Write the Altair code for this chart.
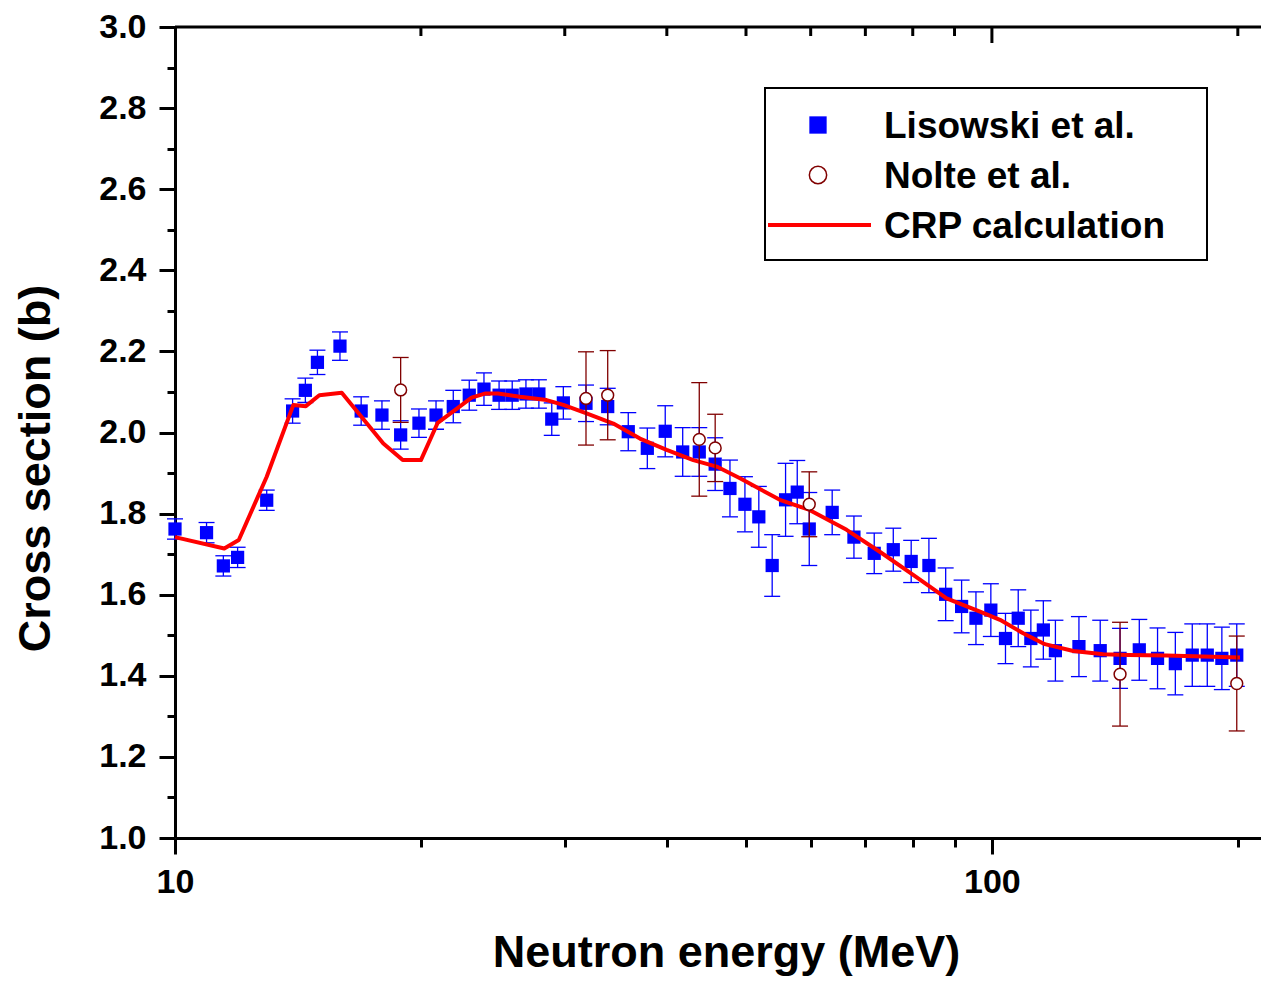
import altair as alt
import pandas as pd

# ---------------- data ----------------
lis_E = [10.0, 10.93, 11.46, 11.93, 12.95, 13.93, 14.44, 14.94, 15.92, 16.9,
         17.92, 18.89, 19.89, 20.87, 21.91, 22.92, 23.89, 24.93, 25.87, 26.89,
         27.89, 28.92, 29.88, 31.85, 33.86, 35.88, 37.86, 39.82, 41.83, 43.83,
         45.84, 47.79, 49.85, 51.84, 53.83, 55.9, 57.77, 59.76, 63.75, 67.78,
         71.77, 75.73, 79.65, 83.73, 87.78, 91.81, 95.6, 99.7, 103.9, 107.7,
         111.6, 115.6, 119.6, 127.8, 135.7, 143.5, 151.5, 159.5, 167.7, 175.9,
         183.5, 191.2, 199.4]
lis_S = [1.762, 1.753, 1.671, 1.692, 1.833, 2.053, 2.104, 2.173, 2.213, 2.053,
         2.043, 1.994, 2.023, 2.043, 2.064, 2.092, 2.107, 2.092, 2.092, 2.095,
         2.095, 2.033, 2.073, 2.072, 2.064, 2.002, 1.961, 2.003, 1.952, 1.952,
         1.922, 1.862, 1.823, 1.792, 1.672, 1.834, 1.853, 1.762, 1.803, 1.742,
         1.702, 1.711, 1.682, 1.672, 1.601, 1.571, 1.542, 1.562, 1.492, 1.542,
         1.492, 1.513, 1.462, 1.472, 1.462, 1.443, 1.464, 1.443, 1.430, 1.451,
         1.451, 1.443, 1.451]
lis_err = [0.025, 0.025, 0.025, 0.025, 0.025, 0.03, 0.03, 0.03, 0.035, 0.035,
           0.035, 0.035, 0.035, 0.035, 0.04, 0.037, 0.04, 0.035, 0.035, 0.035,
           0.035, 0.04, 0.04, 0.045, 0.045, 0.047, 0.05, 0.063, 0.06, 0.06,
           0.065, 0.07, 0.068, 0.075, 0.076, 0.09, 0.078, 0.09, 0.055, 0.052,
           0.05, 0.053, 0.052, 0.067, 0.065, 0.065, 0.065, 0.065, 0.062, 0.07,
           0.07, 0.072, 0.075, 0.074, 0.075, 0.074, 0.075, 0.075, 0.077, 0.077,
           0.077, 0.077, 0.077]

nol_E = [18.89, 31.85, 33.86, 43.83, 45.84, 59.76, 143.5, 199.4]
nol_S = [2.105, 2.084, 2.092, 1.983, 1.962, 1.823, 1.404, 1.381]
nol_err = [0.08, 0.115, 0.11, 0.14, 0.083, 0.08, 0.128, 0.117]

crp_E = [10.0, 11.49, 11.97, 12.95, 13.96, 14.46, 15.02, 16.0, 17.99, 19.0,
         20.0, 20.97, 22.01, 23.07, 23.95, 24.85, 26.44, 28.5, 29.88, 31.9,
         34.4, 37.08, 39.98, 43.1, 46.03, 49.16, 55.0, 59.8, 66.4, 72.9,
         80.1, 88.0, 96.7, 102.3, 109.2, 116.1, 125.8, 136.9, 147.0, 163.6,
         201.2]
crp_S = [1.742, 1.714, 1.735, 1.891, 2.068, 2.065, 2.092, 2.098, 1.973, 1.932,
         1.932, 2.024, 2.055, 2.086, 2.096, 2.096, 2.088, 2.08, 2.068, 2.047,
         2.022, 1.985, 1.957, 1.932, 1.916, 1.887, 1.834, 1.809, 1.76, 1.706,
         1.649, 1.591, 1.558, 1.538, 1.505, 1.478, 1.461, 1.453, 1.451, 1.45,
         1.445]

x_major_ticks = [10, 100]
x_minor_ticks = [20, 30, 40, 50, 60, 70, 80, 90, 200]
y_ticks = [1.0, 1.1, 1.2, 1.3, 1.4, 1.5, 1.6, 1.7, 1.8, 1.9, 2.0,
           2.1, 2.2, 2.3, 2.4, 2.5, 2.6, 2.7, 2.8, 2.9, 3.0]

legend_labels = ["Lisowski et al.", "Nolte et al.", "CRP calculation"]

# ---------------- tables ----------------
lis = pd.DataFrame({"E": lis_E, "S": lis_S,
                    "lo": [s - e for s, e in zip(lis_S, lis_err)],
                    "hi": [s + e for s, e in zip(lis_S, lis_err)]})
nol = pd.DataFrame({"E": nol_E, "S": nol_S,
                    "lo": [s - e for s, e in zip(nol_S, nol_err)],
                    "hi": [s + e for s, e in zip(nol_S, nol_err)]})
crp = pd.DataFrame({"E": crp_E, "S": crp_S})
top_minor = pd.DataFrame({"E": x_minor_ticks})
top_major = pd.DataFrame({"E": [100]})

W, H = 1086, 811
FONT = "Liberation Sans"
BLUE = "#0000FF"
DRED = "#800000"
RED = "#FF0000"

xs = alt.Scale(type="log", domain=[10, 213.5], nice=False)
ys = alt.Scale(domain=[1.0, 3.0], nice=False, zero=False)

xaxis = alt.Axis(
    values=x_major_ticks + x_minor_ticks,
    labelExpr="(datum.value == 10 || datum.value == 100) ? format(datum.value, 'd') : ''",
    tickSize={"condition": {"test": "datum.value == 10 || datum.value == 100", "value": 16}, "value": 9},
    labelPadding=11, labelFlush=False, labelOverlap=False,
    title="Neutron energy (MeV)", titleX=551, titleY=128,
    titleBaseline="alphabetic", titleAlign="center",
)
yaxis = alt.Axis(
    values=y_ticks,
    labelExpr="round(datum.value * 10) % 2 == 0 ? format(datum.value, '.1f') : ''",
    tickSize={"condition": {"test": "round(datum.value * 10) % 2 == 0", "value": 16}, "value": 8},
    labelPadding=13, labelFlush=False, labelOverlap=False,
    title="Cross section (b)", titleX=-126, titleY=441,
    titleBaseline="alphabetic", titleAlign="center", titleAngle=270,
)


def X(field="E"):
    return alt.X(f"{field}:Q", scale=xs, axis=xaxis)


def Y(field):
    return alt.Y(f"{field}:Q", scale=ys, axis=yaxis)


# Lisowski
lis_bar = alt.Chart(lis).mark_rule(color=BLUE, strokeWidth=1.3).encode(
    x=X(), y=Y("lo"), y2="hi:Q")
lis_cap_lo = alt.Chart(lis).mark_tick(orient="horizontal", color=BLUE, size=16,
                                      thickness=1.3, opacity=1).encode(x=X(), y=Y("lo"))
lis_cap_hi = alt.Chart(lis).mark_tick(orient="horizontal", color=BLUE, size=16,
                                      thickness=1.3, opacity=1).encode(x=X(), y=Y("hi"))
lis_pts = alt.Chart(lis).mark_square(color=BLUE, size=175, opacity=1,
                                     strokeWidth=0).encode(x=X(), y=Y("S"))

# CRP line
crp_line = alt.Chart(crp).mark_line(color=RED, strokeWidth=4,
                                    strokeJoin="round").encode(x=X(), y=Y("S"))

# Nolte
nol_bar = alt.Chart(nol).mark_rule(color=DRED, strokeWidth=1.3).encode(
    x=X(), y=Y("lo"), y2="hi:Q")
nol_cap_lo = alt.Chart(nol).mark_tick(orient="horizontal", color=DRED, size=16,
                                      thickness=1.3, opacity=1).encode(x=X(), y=Y("lo"))
nol_cap_hi = alt.Chart(nol).mark_tick(orient="horizontal", color=DRED, size=16,
                                      thickness=1.3, opacity=1).encode(x=X(), y=Y("hi"))
nol_pts = alt.Chart(nol).mark_point(shape="circle", filled=True, fill="white",
                                    stroke=DRED, strokeWidth=1.5, size=140,
                                    opacity=1).encode(x=X(), y=Y("S"))

# top frame line and inward ticks
one = pd.DataFrame({"a": [0]})
top_line = alt.Chart(one).mark_rule(color="black", strokeWidth=3).encode(
    x=alt.value(0), x2=alt.value(W), y=alt.value(0))
top_ticks_minor = alt.Chart(top_minor).mark_rule(color="black", strokeWidth=3).encode(
    x=X(), y=alt.value(0), y2=alt.value(9))
top_ticks_major = alt.Chart(top_major).mark_rule(color="black", strokeWidth=3).encode(
    x=X(), y=alt.value(0), y2=alt.value(16))

# legend (hand-built)
leg_box = alt.Chart(one).mark_rect(fill="white", stroke="black", strokeWidth=2).encode(
    x=alt.value(590), x2=alt.value(1032), y=alt.value(61), y2=alt.value(233))
leg_sq = alt.Chart(one).mark_square(color=BLUE, size=300, opacity=1, strokeWidth=0).encode(
    x=alt.value(643), y=alt.value(98))
leg_circ = alt.Chart(one).mark_point(shape="circle", filled=True, fill="white",
                                     stroke=DRED, strokeWidth=1.5, size=300,
                                     opacity=1).encode(x=alt.value(643), y=alt.value(148))
leg_line = alt.Chart(one).mark_rule(color=RED, strokeWidth=4).encode(
    x=alt.value(593), x2=alt.value(696), y=alt.value(198))

leg_texts = []
for lab, yy in zip(legend_labels, [100, 150, 200]):
    leg_texts.append(
        alt.Chart(pd.DataFrame({"t": [lab]})).mark_text(
            align="left", baseline="middle", font=FONT, fontSize=37,
            fontWeight="bold", color="black").encode(
            x=alt.value(709), y=alt.value(yy), text="t:N"))

chart = alt.layer(
    lis_bar, lis_cap_lo, lis_cap_hi, lis_pts, crp_line,
    nol_bar, nol_cap_lo, nol_cap_hi, nol_pts,
    top_line, top_ticks_minor, top_ticks_major,
    leg_box, leg_sq, leg_circ, leg_line, *leg_texts,
).properties(
    width=W, height=H, background="white",
    padding={"left": 167, "top": 19, "right": 0, "bottom": 139},
    autosize=alt.AutoSizeParams(type="none"),
).configure_view(stroke=None).configure_axis(
    grid=False, domainColor="black", domainWidth=3, tickColor="black", tickWidth=3,
    labelFont=FONT, labelFontSize=34, labelFontWeight="bold", labelColor="black",
    titleFont=FONT, titleFontSize=45, titleFontWeight="bold", titleColor="black",
)

chart.save("out.html", embed_options={"renderer": "svg", "actions": False})
